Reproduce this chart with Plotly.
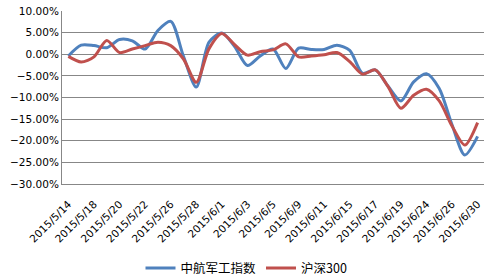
import plotly.graph_objects as go

dates = ["2015/5/14", "2015/5/15", "2015/5/18", "2015/5/19", "2015/5/20", "2015/5/21",
         "2015/5/22", "2015/5/25", "2015/5/26", "2015/5/27", "2015/5/28", "2015/5/29",
         "2015/6/1", "2015/6/2", "2015/6/3", "2015/6/4", "2015/6/5", "2015/6/8",
         "2015/6/9", "2015/6/10", "2015/6/11", "2015/6/12", "2015/6/15", "2015/6/16",
         "2015/6/17", "2015/6/18", "2015/6/19", "2015/6/23", "2015/6/24", "2015/6/25",
         "2015/6/26", "2015/6/29", "2015/6/30"]

avic_military = [-0.4, 2.1, 2.0, 1.5, 3.4, 3.1, 1.2, 5.5, 7.6, -0.5, -7.6, 2.8,
                 4.9, 1.8, -2.6, -0.4, 1.2, -3.3, 1.4, 1.1, 1.1, 2.1, 0.9, -4.4,
                 -3.6, -7.4, -10.8, -6.4, -4.5, -7.9, -16.3, -23.3, -19.0]

csi300 = [-0.5, -1.8, -0.6, 3.2, 0.4, 1.2, 2.0, 2.8, 2.0, -1.1, -6.5, 1.3,
          4.8, 2.2, -0.2, 0.6, 1.0, 2.4, -0.6, -0.4, -0.1, 0.4, -1.7, -4.6,
          -3.6, -7.5, -12.5, -9.5, -8.1, -10.8, -16.6, -21.0, -15.8]

tick_labels = dates[::2]

fig = go.Figure()
fig.add_trace(go.Scatter(x=dates, y=avic_military, name="中航军工指数", mode="lines",
                         line=dict(color="#4F81BD", width=3, shape="spline", smoothing=0.8)))
fig.add_trace(go.Scatter(x=dates, y=csi300, name="沪深300", mode="lines",
                         line=dict(color="#C0504D", width=3, shape="spline", smoothing=0.8)))

grid = "#878787"
fig.update_layout(
    width=493, height=278,
    margin=dict(l=62, r=9, t=11, b=94, autoexpand=False),
    paper_bgcolor="white", plot_bgcolor="white",
    font=dict(family="DejaVu Sans, Noto Sans CJK SC", size=10.5, color="black"),
    showlegend=True,
    legend=dict(orientation="h", xref="container", x=0.5, xanchor="center",
                yref="container", y=0.035, yanchor="middle",
                font=dict(family="Noto Sans CJK SC, DejaVu Sans", size=12.5),
                itemwidth=30, tracegroupgap=0),
    xaxis=dict(type="category", range=[-0.5, len(dates) - 0.5], automargin=False,
               tickmode="array", tickvals=tick_labels, ticktext=tick_labels,
               tickangle=-45, showgrid=False, showline=True, linecolor=grid, linewidth=1,
               ticks="", ticklabelstandoff=9, zeroline=False),
    yaxis=dict(range=[-30, 10], dtick=5, tick0=0, tickformat=".2f", ticksuffix="%",
               automargin=False,
               showgrid=True, gridcolor=grid, gridwidth=1, showline=True, linecolor=grid,
               linewidth=1, zeroline=False, ticks=""),
)

fig.write_html("out.html")
